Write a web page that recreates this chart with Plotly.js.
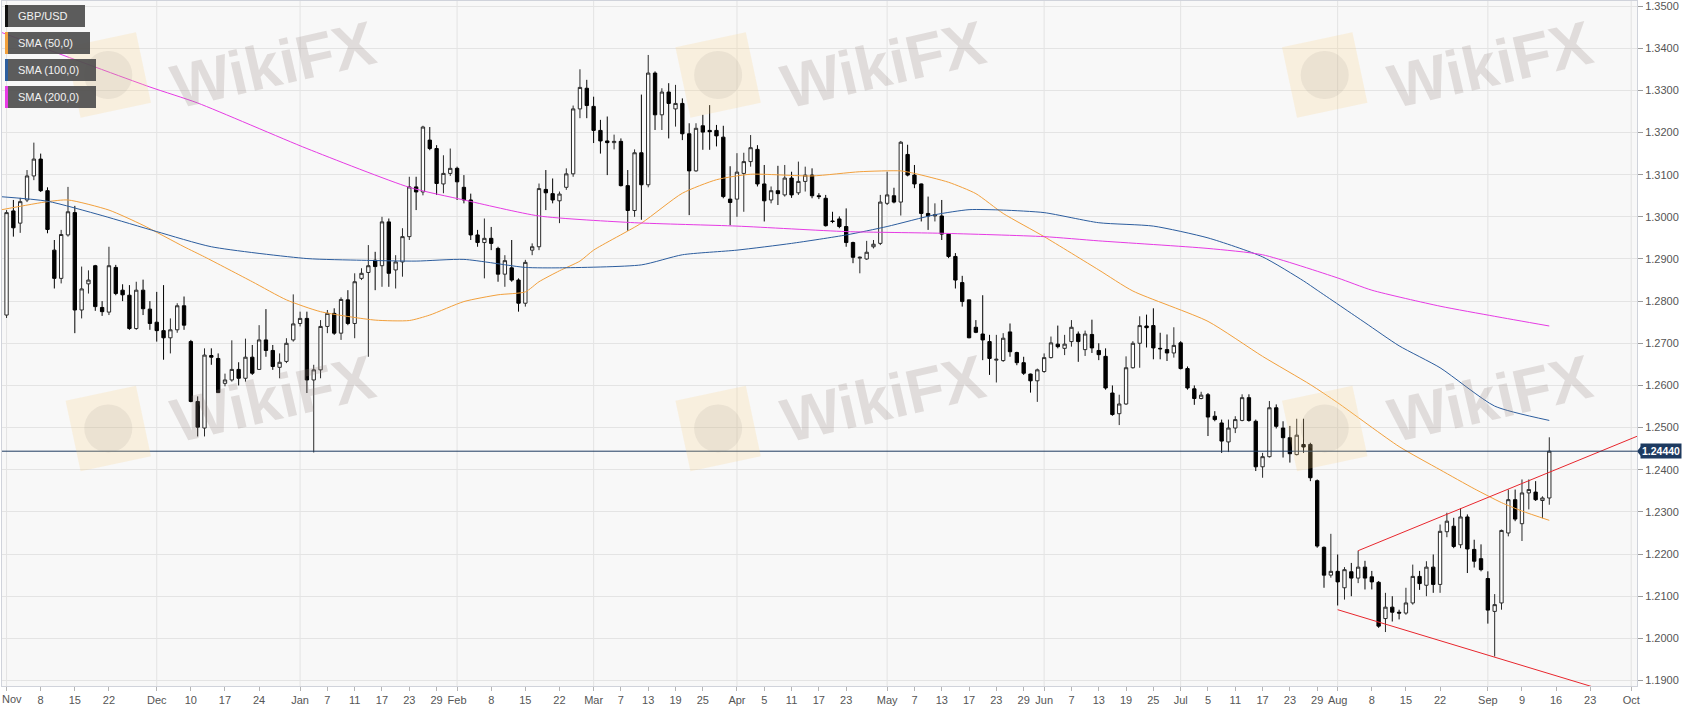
<!DOCTYPE html>
<html><head><meta charset="utf-8">
<script src="https://cdn.plot.ly/plotly-3.0.1.min.js"></script>
<style>html,body{margin:0;padding:0;background:#fff;}#chart{width:1707px;height:712px;}</style>
</head><body><div id="chart"></div>
<script>
// ---------------- DATA ----------------
const firstDate = '2018-10-31';
const open = [
1.2712,1.2767,1.3014,1.2985,1.3040,1.3097,1.3137,1.3062,1.2921,1.2854,
1.2957,1.3010,1.2779,1.2841,1.2884,1.2785,1.2774,1.2880,1.2826,1.2814,
1.2735,1.2826,1.2781,1.2750,1.2730,1.2713,1.2732,1.2789,1.2704,1.2562,
1.2499,1.2671,1.2664,1.2605,1.2613,1.2638,1.2617,1.2667,1.2638,1.2708,
1.2683,1.2643,1.2657,1.2708,1.2747,1.2759,1.2613,1.2637,1.2740,1.2771,
1.2724,1.2803,1.2747,1.2854,1.2868,1.2897,1.2884,1.2988,1.2874,1.2893,
1.2953,1.3071,1.3059,1.3182,1.3162,1.3078,1.3103,1.3115,1.3070,1.3040,
1.2957,1.2939,1.2949,1.2925,1.2864,1.2879,1.2850,1.2795,1.2921,1.2929,
1.3065,1.3055,1.3038,1.3070,1.3102,1.3256,1.3305,1.3262,1.3205,1.3180,
1.3176,1.3179,1.3074,1.3015,1.3152,1.3076,1.3341,1.3242,1.3296,1.3256,
1.3269,1.3197,1.3109,1.3216,1.3205,1.3205,1.3189,1.3042,1.3042,1.3103,
1.3131,1.3160,1.3078,1.3040,1.3062,1.3052,1.3092,1.3057,1.3084,1.3099,
1.3050,1.3044,1.2990,1.2995,1.2977,1.2939,1.2902,1.2900,1.2929,1.2937,
1.3032,1.3050,1.3035,1.3148,1.3099,1.3078,1.3008,1.3002,1.3002,1.2959,
1.2906,1.2844,1.2803,1.2738,1.2722,1.2704,1.2660,1.2659,1.2727,1.2678,
1.2654,1.2627,1.2611,1.2633,1.2666,1.2698,1.2688,1.2704,1.2722,1.2685,
1.2721,1.2683,1.2669,1.2582,1.2533,1.2556,1.2642,1.2700,1.2741,1.2742,
1.2688,1.2685,1.2677,1.2701,1.2640,1.2592,1.2569,1.2578,1.2527,1.2511,
1.2466,1.2499,1.2517,1.2571,1.2515,1.2407,1.2431,1.2547,1.2499,1.2476,
1.2436,1.2460,1.2460,1.2374,1.2216,1.2150,1.2159,1.2120,1.2158,1.2143,
1.2169,1.2146,1.2133,1.2047,1.2074,1.2062,1.2060,1.2084,1.2147,1.2126,
1.2169,1.2128,1.2253,1.2266,1.2222,1.2288,1.2211,1.2189,1.2142,1.2064,
1.2084,1.2250,1.2329,1.2272,1.2345,1.2347,1.2327,1.2333];
const high = [
1.2785,1.3016,1.3040,1.3045,1.3111,1.3176,1.3150,1.3070,1.2945,1.2969,
1.3071,1.3026,1.2882,1.2873,1.2886,1.2800,1.2929,1.2886,1.2840,1.2838,
1.2846,1.2851,1.2800,1.2822,1.2838,1.2759,1.2795,1.2811,1.2708,1.2574,
1.2688,1.2688,1.2676,1.2628,1.2707,1.2655,1.2711,1.2696,1.2743,1.2781,
1.2696,1.2676,1.2712,1.2816,1.2775,1.2775,1.2649,1.2755,1.2779,1.2783,
1.2809,1.2826,1.2866,1.2878,1.2933,1.2917,1.3000,1.2996,1.2909,1.2973,
1.3095,1.3095,1.3216,1.3213,1.3170,1.3146,1.3162,1.3119,1.3099,1.3055,
1.2969,1.2996,1.2976,1.2929,1.2909,1.2945,1.2854,1.2898,1.2937,1.3079,
1.3111,1.3091,1.3060,1.3115,1.3264,1.3350,1.3325,1.3285,1.3230,1.3238,
1.3195,1.3186,1.3111,1.3160,1.3290,1.3384,1.3345,1.3305,1.3317,1.3313,
1.3281,1.3222,1.3222,1.3242,1.3265,1.3218,1.3216,1.3120,1.3151,1.3152,
1.3194,1.3170,1.3123,1.3072,1.3121,1.3123,1.3107,1.3131,1.3119,1.3115,
1.3056,1.3052,1.3012,1.3001,1.3020,1.2941,1.2906,1.2943,1.2945,1.3052,
1.3107,1.3069,1.3180,1.3171,1.3123,1.3079,1.3048,1.3032,1.3040,1.2961,
1.2914,1.2860,1.2803,1.2755,1.2814,1.2720,1.2720,1.2724,1.2747,1.2680,
1.2668,1.2628,1.2640,1.2676,1.2716,1.2742,1.2720,1.2755,1.2728,1.2730,
1.2756,1.2700,1.2688,1.2600,1.2578,1.2669,1.2705,1.2764,1.2768,1.2783,
1.2725,1.2721,1.2738,1.2705,1.2645,1.2600,1.2585,1.2582,1.2539,1.2519,
1.2519,1.2527,1.2579,1.2579,1.2519,1.2440,1.2563,1.2555,1.2515,1.2504,
1.2521,1.2521,1.2464,1.2377,1.2218,1.2248,1.2199,1.2169,1.2179,1.2208,
1.2184,1.2160,1.2136,1.2108,1.2100,1.2068,1.2120,1.2175,1.2160,1.2183,
1.2199,1.2270,1.2298,1.2286,1.2309,1.2294,1.2234,1.2223,1.2159,1.2105,
1.2258,1.2353,1.2353,1.2377,1.2377,1.2373,1.2337,1.2477];
const low = [
1.2696,1.2760,1.2953,1.2962,1.3035,1.3087,1.3059,1.2961,1.2830,1.2842,
1.2953,1.2724,1.2759,1.2818,1.2777,1.2765,1.2767,1.2814,1.2800,1.2732,
1.2732,1.2767,1.2732,1.2704,1.2661,1.2676,1.2725,1.2732,1.2560,1.2479,
1.2479,1.2649,1.2582,1.2598,1.2609,1.2600,1.2609,1.2625,1.2637,1.2668,
1.2637,1.2617,1.2653,1.2704,1.2740,1.2582,1.2441,1.2617,1.2724,1.2720,
1.2708,1.2743,1.2712,1.2850,1.2668,1.2826,1.2834,1.2834,1.2830,1.2858,
1.2945,1.3016,1.3051,1.3158,1.3052,1.3056,1.3097,1.3040,1.3032,1.2945,
1.2929,1.2854,1.2921,1.2846,1.2834,1.2846,1.2775,1.2787,1.2909,1.2921,
1.3016,1.3032,1.2985,1.3064,1.3095,1.3234,1.3234,1.3175,1.3150,1.3099,
1.3160,1.3072,1.2967,1.3000,1.2993,1.3070,1.3206,1.3206,1.3186,1.3214,
1.3182,1.3004,1.3107,1.3159,1.3159,1.3167,1.3044,1.2980,1.3000,1.3012,
1.3119,1.3072,1.2989,1.3032,1.3028,1.3048,1.3045,1.3052,1.3060,1.3044,
1.3042,1.2977,1.2985,1.2973,1.2929,1.2890,1.2866,1.2898,1.2925,1.2933,
1.3028,1.3032,1.3003,1.3096,1.3068,1.2989,1.2969,1.2989,1.2945,1.2902,
1.2830,1.2787,1.2712,1.2724,1.2660,1.2625,1.2607,1.2656,1.2668,1.2648,
1.2625,1.2583,1.2561,1.2630,1.2664,1.2688,1.2672,1.2692,1.2656,1.2670,
1.2677,1.2660,1.2590,1.2528,1.2506,1.2554,1.2640,1.2642,1.2690,1.2662,
1.2662,1.2658,1.2666,1.2638,1.2590,1.2554,1.2567,1.2480,1.2515,1.2440,
1.2442,1.2487,1.2515,1.2514,1.2397,1.2381,1.2429,1.2498,1.2429,1.2417,
1.2434,1.2440,1.2373,1.2215,1.2120,1.2144,1.2078,1.2092,1.2100,1.2131,
1.2116,1.2116,1.2025,1.2015,1.2040,1.2045,1.2056,1.2080,1.2115,1.2100,
1.2108,1.2108,1.2240,1.2214,1.2214,1.2155,1.2168,1.2159,1.2035,1.1957,
1.2068,1.2242,1.2278,1.2231,1.2306,1.2326,1.2285,1.2317];
const close = [
1.2767,1.3010,1.2974,1.3036,1.3097,1.3137,1.3062,1.2970,1.2854,1.2958,
1.3012,1.2779,1.2829,1.2850,1.2787,1.2775,1.2884,1.2818,1.2815,1.2735,
1.2826,1.2782,1.2747,1.2730,1.2713,1.2732,1.2789,1.2743,1.2562,1.2501,
1.2672,1.2667,1.2583,1.2613,1.2638,1.2617,1.2667,1.2629,1.2708,1.2683,
1.2645,1.2655,1.2700,1.2746,1.2759,1.2613,1.2637,1.2740,1.2771,1.2724,
1.2804,1.2747,1.2846,1.2866,1.2884,1.2882,1.2988,1.2866,1.2893,1.2953,
1.3071,1.3059,1.3213,1.3162,1.3079,1.3103,1.3115,1.3083,1.3040,1.2957,
1.2939,1.2949,1.2937,1.2864,1.2896,1.2850,1.2795,1.2892,1.2929,1.3067,
1.3057,1.3040,1.3054,1.3102,1.3256,1.3307,1.3264,1.3205,1.3180,1.3176,
1.3179,1.3074,1.3015,1.3152,1.3076,1.3341,1.3242,1.3296,1.3269,1.3269,
1.3197,1.3109,1.3210,1.3201,1.3202,1.3192,1.3048,1.3034,1.3106,1.3131,
1.3164,1.3078,1.3038,1.3062,1.3055,1.3092,1.3052,1.3084,1.3099,1.3050,
1.3048,1.2979,1.2989,1.2977,1.2939,1.2904,1.2904,1.2916,1.2935,1.3035,
1.3052,1.3035,1.3177,1.3099,1.3078,1.3008,1.3002,1.3005,1.2959,1.2906,
1.2850,1.2799,1.2713,1.2726,1.2708,1.2664,1.2662,1.2712,1.2680,1.2654,
1.2629,1.2611,1.2637,1.2666,1.2701,1.2692,1.2698,1.2738,1.2704,1.2722,
1.2689,1.2673,1.2594,1.2531,1.2556,1.2642,1.2700,1.2742,1.2737,1.2689,
1.2687,1.2677,1.2695,1.2640,1.2594,1.2569,1.2577,1.2525,1.2519,1.2468,
1.2499,1.2519,1.2571,1.2517,1.2407,1.2431,1.2547,1.2503,1.2476,1.2438,
1.2482,1.2454,1.2381,1.2219,1.2150,1.2159,1.2134,1.2163,1.2143,1.2169,
1.2143,1.2134,1.2029,1.2074,1.2062,1.2060,1.2084,1.2147,1.2130,1.2169,
1.2128,1.2254,1.2278,1.2218,1.2288,1.2212,1.2183,1.2163,1.2067,1.2080,
1.2256,1.2329,1.2283,1.2345,1.2353,1.2329,1.2333,1.2444];

const sma50Dates = ['2018-10-31','2018-11-09','2018-11-14','2018-11-22','2018-11-29','2018-12-07','2018-12-12','2018-12-21','2018-12-28','2019-01-04','2019-01-16','2019-01-23','2019-01-28','2019-02-04','2019-02-11','2019-02-15','2019-02-19','2019-02-22','2019-02-27','2019-03-01','2019-03-12','2019-03-20','2019-03-27','2019-04-03','2019-04-16','2019-04-25','2019-05-03','2019-05-07','2019-05-14','2019-05-20','2019-05-24','2019-06-03','2019-06-13','2019-06-20','2019-07-05','2019-07-17','2019-07-26','2019-08-01','2019-08-14','2019-08-22','2019-08-29','2019-09-04','2019-09-09','2019-09-13'];
const sma50 = [1.3016,1.3036,1.3040,1.3016,1.2980,1.2929,1.2905,1.2846,1.2803,1.2775,1.2755,1.2754,1.2767,1.2799,1.2815,1.2822,1.2846,1.2872,1.2895,1.2921,1.2985,1.3056,1.3088,1.3101,1.3097,1.3107,1.3109,1.3103,1.3082,1.3055,1.3008,1.2953,1.2874,1.2824,1.2752,1.2669,1.2602,1.2559,1.2455,1.2400,1.2355,1.2322,1.2302,1.2280];

const sma100Dates = ['2018-10-31','2018-11-09','2018-11-21','2018-12-03','2018-12-13','2019-01-02','2019-01-14','2019-01-24','2019-02-04','2019-02-15','2019-02-22','2019-03-12','2019-03-20','2019-04-01','2019-04-11','2019-04-23','2019-05-01','2019-05-10','2019-05-17','2019-05-24','2019-06-03','2019-06-13','2019-06-25','2019-07-05','2019-07-17','2019-07-25','2019-07-29','2019-08-07','2019-08-14','2019-08-22','2019-09-03','2019-09-13'];
const sma100 = [1.3048,1.3037,1.3003,1.2965,1.2929,1.2901,1.2897,1.2895,1.2899,1.2880,1.2879,1.2886,1.2910,1.2921,1.2937,1.2957,1.2977,1.3005,1.3017,1.3016,1.3010,1.2986,1.2978,1.2950,1.2905,1.2848,1.2826,1.2749,1.2694,1.2642,1.2551,1.2517];

const sma200Dates = ['2018-10-31','2018-11-30','2018-12-11','2019-01-02','2019-01-23','2019-02-04','2019-02-19','2019-03-11','2019-04-01','2019-04-23','2019-05-13','2019-06-03','2019-06-13','2019-07-05','2019-07-17','2019-08-01','2019-08-08','2019-08-22','2019-09-03','2019-09-13'];
const sma200 = [1.3439,1.3308,1.3270,1.3162,1.3070,1.3040,1.3002,1.2986,1.2978,1.2965,1.2961,1.2953,1.2943,1.2925,1.2910,1.2855,1.2826,1.2788,1.2764,1.2741];

const upperTrendDates = ['2019-08-06','2019-10-03'];
const upperTrendVals = [1.2208, 1.2487];
const lowerTrendDates = ['2019-08-01','2019-09-25'];
const lowerTrendVals = [1.2068, 1.1877];

const tickDates = ['2018-11-01','2018-11-08','2018-11-15','2018-11-22','2018-12-03','2018-12-10','2018-12-17','2018-12-24','2019-01-01','2019-01-07','2019-01-11','2019-01-17','2019-01-23','2019-01-29','2019-02-01','2019-02-08','2019-02-15','2019-02-22','2019-03-01','2019-03-07','2019-03-13','2019-03-19','2019-03-25','2019-04-01','2019-04-05','2019-04-11','2019-04-17','2019-04-23','2019-05-01','2019-05-07','2019-05-13','2019-05-17','2019-05-23','2019-05-29','2019-06-03','2019-06-07','2019-06-13','2019-06-19','2019-06-25','2019-07-01','2019-07-05','2019-07-11','2019-07-17','2019-07-23','2019-07-29','2019-08-01','2019-08-08','2019-08-15','2019-08-22','2019-09-02','2019-09-09','2019-09-16','2019-09-23','2019-10-01'];
const tickLabels = ['Nov','8','15','22','Dec','10','17','24','Jan','7','11','17','23','29','Feb','8','15','22','Mar','7','13','19','25','Apr','5','11','17','23','May','7','13','17','23','29','Jun','7','13','19','25','Jul','5','11','17','23','29','Aug','8','15','22','Sep','9','16','23','Oct'];
const monthStarts = ['2018-11-01','2018-12-03','2019-01-01','2019-02-01','2019-03-01','2019-04-01','2019-05-01','2019-06-03','2019-07-01','2019-08-01','2019-09-02','2019-10-01'];

const legendNames = ['GBP/USD','SMA (50,0)','SMA (100,0)','SMA (200,0)'];
const symbol = 'GBP/USD';

// ---------------- BUILD ----------------
function tradingDays(start, n) {
  const out = [];
  const d = new Date(start + 'T12:00:00Z');
  while (out.length < n) {
    const wd = d.getUTCDay();
    if (wd !== 0 && wd !== 6) out.push(d.toISOString().slice(0, 10) + ' 12:00');
    d.setUTCDate(d.getUTCDate() + 1);
  }
  return out;
}
const noon = a => a.map(s => s + ' 12:00');
const dates = tradingDays(firstDate, close.length);
const lastPrice = close[close.length - 1];

const C_ORANGE = '#f2a03c', C_BLUE = '#2c5d9e', C_MAG = '#e63be4', C_RED = '#e8262d', C_NAVY = '#1d3a60';
const FONT = 'Liberation Sans, Arial, Helvetica, sans-serif';

const traces = [
  {type: 'candlestick', x: dates, open: open, high: high, low: low, close: close,
   increasing: {line: {color: '#2a2a2a', width: 1}, fillcolor: '#ffffff'},
   decreasing: {line: {color: '#000000', width: 1}, fillcolor: '#000000'},
   whiskerwidth: 0, hoverinfo: 'skip', name: symbol},
  {type: 'scatter', mode: 'lines', x: noon(sma50Dates), y: sma50, line: {color: C_ORANGE, width: 1, shape: 'spline', smoothing: 0.6}, hoverinfo: 'skip'},
  {type: 'scatter', mode: 'lines', x: noon(sma100Dates), y: sma100, line: {color: C_BLUE, width: 1, shape: 'spline', smoothing: 0.6}, hoverinfo: 'skip'},
  {type: 'scatter', mode: 'lines', x: noon(sma200Dates), y: sma200, line: {color: C_MAG, width: 1, shape: 'spline', smoothing: 0.6}, hoverinfo: 'skip'},
  {type: 'scatter', mode: 'lines', x: noon(upperTrendDates), y: upperTrendVals, line: {color: C_RED, width: 1}, hoverinfo: 'skip'},
  {type: 'scatter', mode: 'lines', x: noon(lowerTrendDates), y: lowerTrendVals, line: {color: C_RED, width: 1}, hoverinfo: 'skip'}
];

const shapes = [];
monthStarts.forEach(d => shapes.push({type: 'line', xref: 'x', yref: 'paper', x0: d + ' 12:00', x1: d + ' 12:00', y0: 0, y1: 1, line: {color: '#e3e3e3', width: 1}, layer: 'below'}));
shapes.push({type: 'line', xref: 'paper', yref: 'y', x0: 0, x1: 1, y0: lastPrice, y1: lastPrice, line: {color: C_NAVY, width: 1}, layer: 'above'});
shapes.push({type: 'path', xref: 'paper', xsizemode: 'pixel', xanchor: 1, yref: 'y', ysizemode: 'pixel', yanchor: lastPrice,
  path: 'M 0,0 L 4,5 L 4,-5 Z', fillcolor: C_NAVY, line: {width: 0}});

const annotations = [];

// watermarks (text rows kept fully inside the picture)
const wmX = [0.166, 0.539, 0.910];
const wmTextY = [0.908, 0.420], wmLogoY = [0.892, 0.376];
wmTextY.forEach((y, r) => wmX.forEach(x => {
  annotations.push({xref: 'paper', yref: 'paper', x: x, y: y, xanchor: 'center', yanchor: 'middle',
    text: '<b>WikiFX</b>', showarrow: false, textangle: -13,
    font: {family: FONT, size: 62, color: 'rgba(150,135,130,0.24)'}});
  shapes.push({type: 'path', xref: 'paper', xsizemode: 'pixel', xanchor: x - 0.101, yref: 'paper', ysizemode: 'pixel', yanchor: wmLogoY[r],
    path: 'M -27.7,-42.7 L 42.7,-27.7 L 27.7,42.7 L -42.7,27.7 Z', fillcolor: 'rgba(250,210,130,0.22)', line: {width: 0}, layer: 'above'});
  shapes.push({type: 'circle', xref: 'paper', xsizemode: 'pixel', xanchor: x - 0.101, yref: 'paper', ysizemode: 'pixel', yanchor: wmLogoY[r],
    x0: -24, x1: 24, y0: -24, y1: 24, fillcolor: 'rgba(150,140,135,0.13)', line: {width: 0}, layer: 'above'});
}));

// legend boxes
const legendColors = ['#111111', C_ORANGE, C_BLUE, C_MAG];
const legendWidths = [80, 85, 91, 91];
legendNames.forEach((n, i) => {
  const top = -4 - i * 27, bot = top - 22;
  shapes.push({type: 'rect', xref: 'paper', xsizemode: 'pixel', xanchor: 0, x0: 3, x1: 3 + legendWidths[i],
    yref: 'paper', ysizemode: 'pixel', yanchor: 1, y0: bot, y1: top, fillcolor: 'rgba(78,78,78,0.92)', line: {width: 0}, layer: 'above'});
  shapes.push({type: 'rect', xref: 'paper', xsizemode: 'pixel', xanchor: 0, x0: 3, x1: 6,
    yref: 'paper', ysizemode: 'pixel', yanchor: 1, y0: bot, y1: top, fillcolor: legendColors[i], line: {width: 0}, layer: 'above'});
  annotations.push({xref: 'paper', yref: 'paper', x: 0, y: 1, xanchor: 'left', yanchor: 'middle', xshift: 14, yshift: (top + bot) / 2,
    text: n, showarrow: false, font: {family: FONT, size: 11, color: '#f2f2f2'}});
});

// price label
annotations.push({xref: 'paper', yref: 'y', x: 1, y: lastPrice, xanchor: 'left', yanchor: 'middle', xshift: 3,
  text: '<b>' + lastPrice.toFixed(5) + '</b>', showarrow: false, bgcolor: C_NAVY, borderpad: 1,
  font: {family: FONT, size: 10.5, color: '#ffffff'}});

// first month label, kept inside the div like the reference
const tickText = tickLabels.slice();
annotations.push({xref: 'paper', yref: 'paper', x: 0, y: 0, xanchor: 'left', yanchor: 'middle', xshift: -2, yshift: -13,
  text: tickText[0], showarrow: false, font: {family: FONT, size: 11, color: '#555'}});
tickText[0] = '';

const layout = {
  width: 1707, height: 712,
  margin: {l: 2, r: 70, t: 1, b: 26, pad: 0},
  paper_bgcolor: '#ffffff', plot_bgcolor: '#f8f8f8',
  showlegend: false,
  font: {family: FONT, size: 11, color: '#555'},
  xaxis: {type: 'date', range: ['2018-10-31 20:00', '2019-10-02 08:24'],
    rangebreaks: [{bounds: ['sat', 'mon']}], rangeslider: {visible: false},
    tickmode: 'array', tickvals: noon(tickDates), ticktext: tickText,
    ticks: 'outside', ticklen: 4, tickcolor: '#b5b5b5', showgrid: false,
    showline: true, mirror: true, linecolor: '#d0d3db', zeroline: false, ticklabeloverflow: 'allow',
    tickfont: {family: FONT, size: 11, color: '#555'}},
  yaxis: {side: 'right', range: [1.1887, 1.3512], tick0: 1.19, dtick: 0.01, tickformat: '.4f',
    ticks: 'outside', ticklen: 5, tickcolor: '#9a9a9a', gridcolor: '#e4e4e4',
    showline: true, mirror: true, linecolor: '#d0d3db', zeroline: false, ticklabeloverflow: 'allow',
    tickfont: {family: FONT, size: 11, color: '#555'}},
  shapes: shapes, annotations: annotations
};

Plotly.newPlot('chart', traces, layout, {staticPlot: true, displayModeBar: false});
</script></body></html>
